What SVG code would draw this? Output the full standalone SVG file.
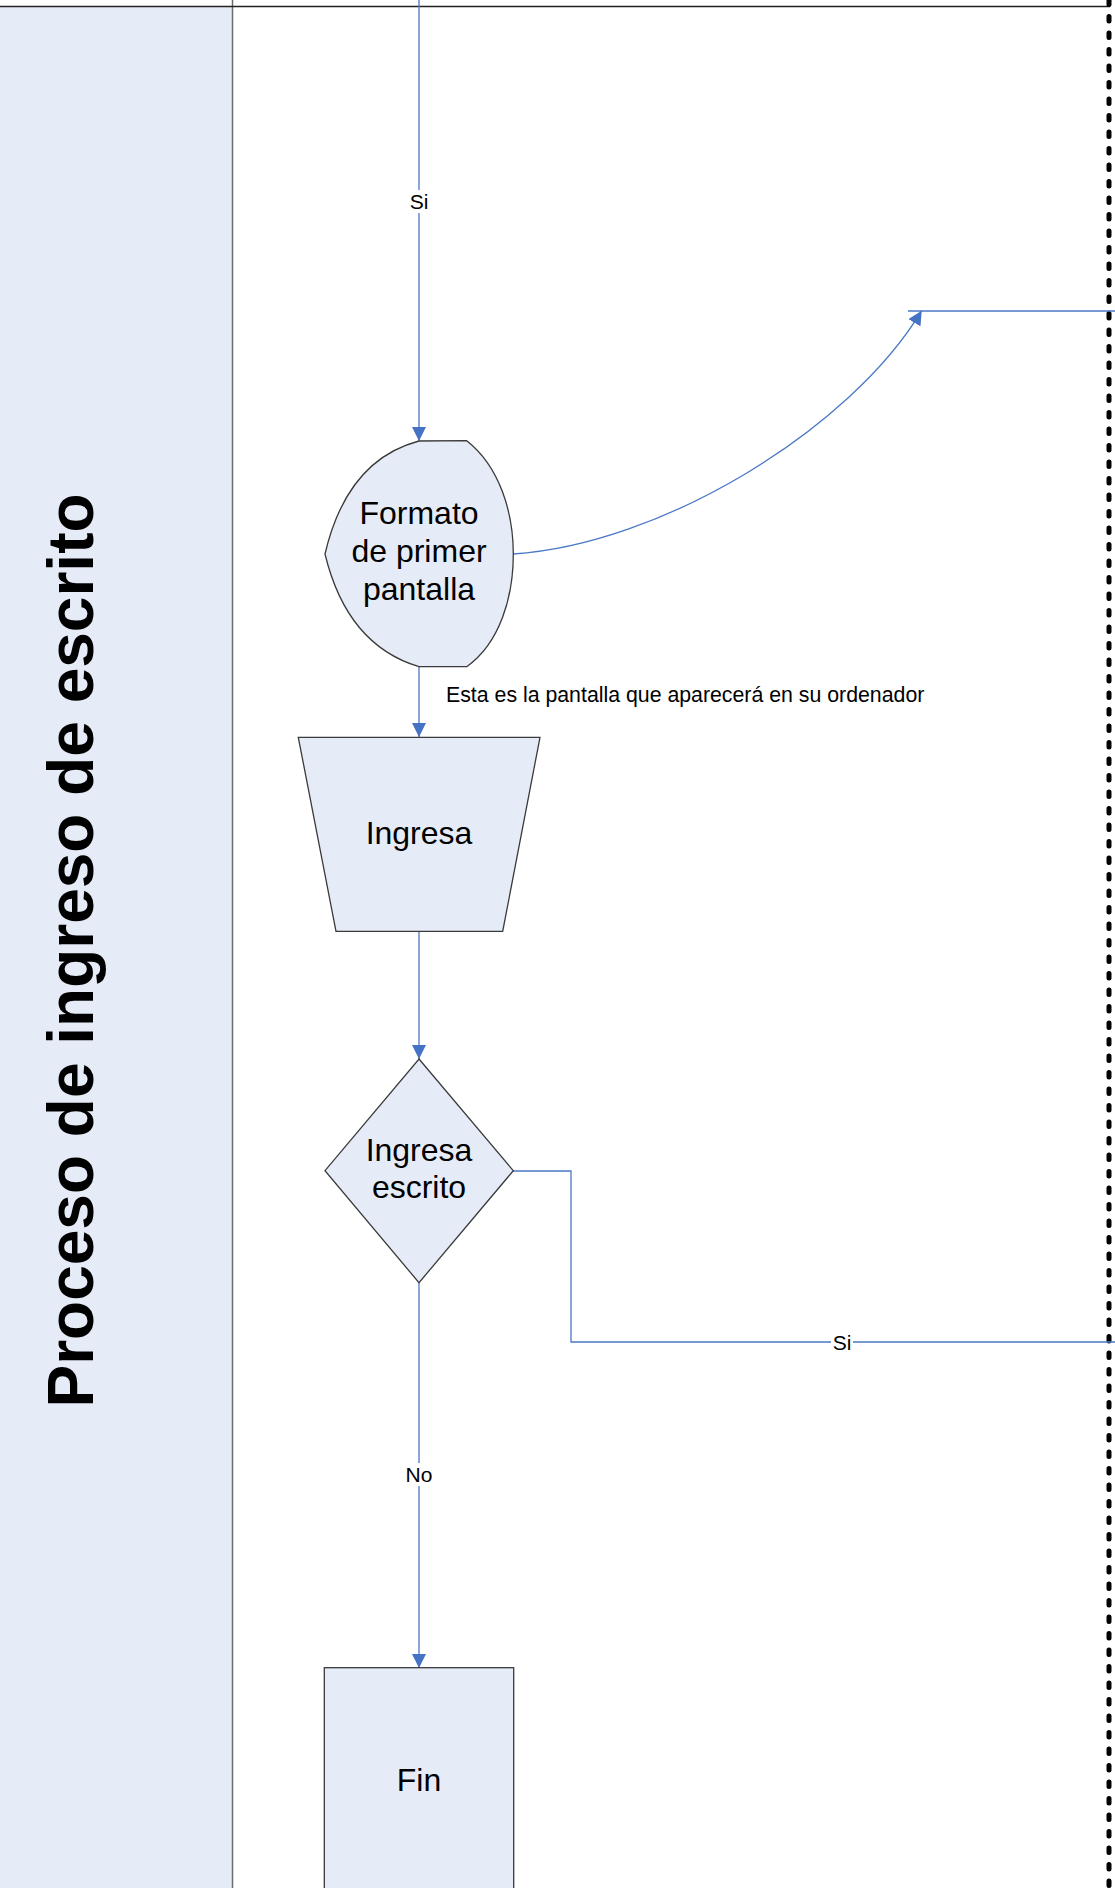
<svg xmlns="http://www.w3.org/2000/svg" width="1115" height="1888" viewBox="0 0 1115 1888">
<style>
.node{fill:#E6ECF7;stroke:#3a3a3a;stroke-width:1.3}
.big{font-family:"Liberation Sans",Arial,sans-serif;font-size:32px;fill:#000;text-anchor:middle}
.lbl{font-family:"Liberation Sans",Arial,sans-serif;font-size:21px;fill:#000;text-anchor:middle}
.conn{fill:none;stroke:#4A78C6;stroke-width:1.3}
.bg{fill:#fff}
</style>
<defs>
<marker id="arr" viewBox="0 0 10 10" refX="10" refY="5" markerWidth="14" markerHeight="14" markerUnits="userSpaceOnUse" orient="auto">
<path d="M0,0 L10,5 L0,10 z" fill="#4472C4"/>
</marker>
</defs>
<rect width="1115" height="1888" fill="#fff"/>
<g id="lane">
<rect x="0" y="7" width="232" height="1881" fill="#E6ECF7"/>
<line x1="232.5" y1="0" x2="232.5" y2="1888" stroke="#6b6b6b" stroke-width="1.5"/>
<line x1="0" y1="6.5" x2="1110" y2="6.5" stroke="#222" stroke-width="1.5"/>
<line x1="1109" y1="0" x2="1109" y2="1888" stroke="#000" stroke-width="5" stroke-linecap="round" stroke-dasharray="4.5 12"/>
<text transform="translate(92.7,950.5) rotate(-90)" font-family="'Liberation Sans',Arial,sans-serif" font-size="64" font-weight="bold" text-anchor="middle" fill="#000">Proceso de ingreso de escrito</text>
</g>
<g id="connectors">
<path class="conn" d="M419,0 V441" marker-end="url(#arr)"/>
<rect class="bg" x="407" y="190" width="24" height="23"/>
<text class="lbl" x="419" y="208.5">Si</text>
<path class="conn" d="M513,554 C660,545 850,430 921.7,310.7" marker-end="url(#arr)"/>
<path class="conn" d="M908,311 H1115"/>
<path class="conn" d="M419,667 V737" marker-end="url(#arr)"/>
<text x="446" y="701.5" font-family="'Liberation Sans',Arial,sans-serif" font-size="21.3" fill="#000">Esta es la pantalla que aparecerá en su ordenador</text>
<path class="conn" d="M419,931 V1059" marker-end="url(#arr)"/>
<path class="conn" d="M419,1283 V1668" marker-end="url(#arr)"/>
<rect class="bg" x="404" y="1463" width="30" height="23"/>
<text class="lbl" x="419" y="1482">No</text>
<path class="conn" d="M513,1171 H571 V1342 H1115"/>
<rect class="bg" x="831" y="1332" width="22" height="21"/>
<text class="lbl" x="842" y="1349.5">Si</text>
</g>
<g id="formato">
<path class="node" d="M419,441 L466.7,440.7 C500,466.7 513.3,513.3 513.3,554 C513.3,596.7 500,643.3 466.7,666.7 L419,666.7 Q347,645 325,554 Q347,460 419,441 Z"/>
<text class="big" x="419" y="524">Formato</text>
<text class="big" x="419" y="562">de primer</text>
<text class="big" x="419" y="600">pantalla</text>
</g>
<g id="ingresa">
<path class="node" d="M298.3,737.3 L540,737.3 L502.7,931.3 L336,931.3 Z"/>
<text class="big" x="419" y="844">Ingresa</text>
</g>
<g id="ingresa-escrito">
<path class="node" d="M419,1059 L513.3,1170.7 L419,1282.7 L325,1170.7 Z"/>
<text class="big" x="419" y="1160.7">Ingresa</text>
<text class="big" x="419" y="1198">escrito</text>
</g>
<g id="fin">
<rect class="node" x="324.3" y="1667.7" width="189.4" height="230"/>
<text class="big" x="419" y="1790.7">Fin</text>
</g>
</svg>
